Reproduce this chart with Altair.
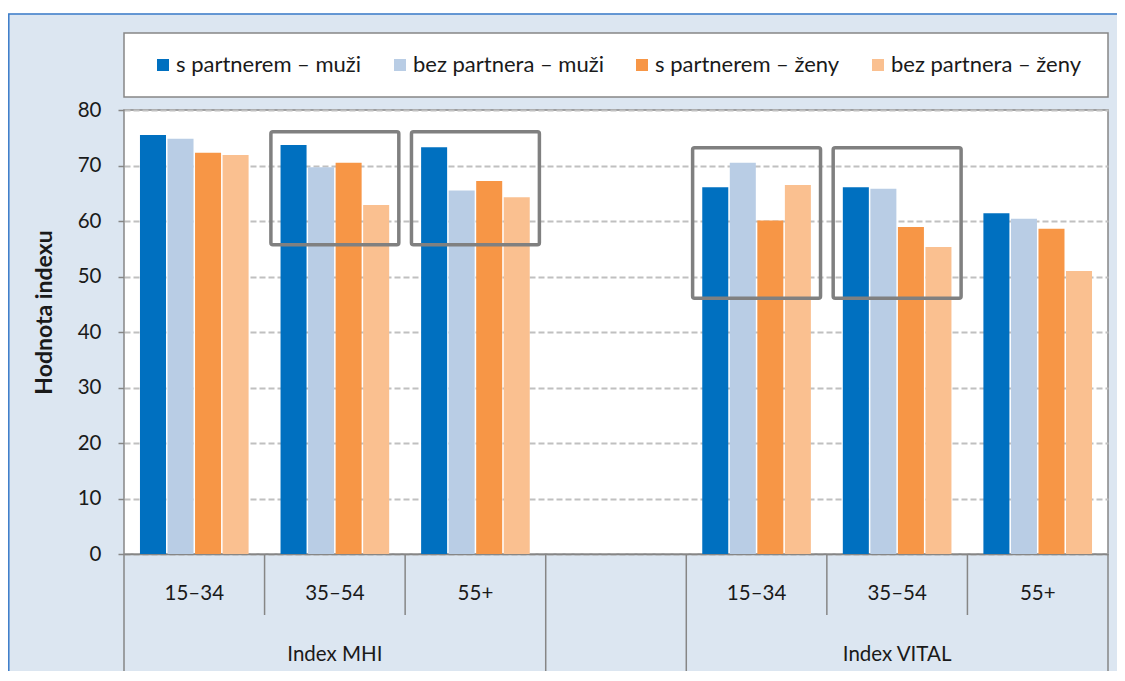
import altair as alt
import pandas as pd

# ---- data ----
slots = ["MHI|15–34", "MHI|35–54", "MHI|55+", "gap|", "VITAL|15–34", "VITAL|35–54", "VITAL|55+"]
bar_slots = ["MHI|15–34", "MHI|35–54", "MHI|55+", "VITAL|15–34", "VITAL|35–54", "VITAL|55+"]
series = ["s partnerem – muži", "bez partnera – muži", "s partnerem – ženy", "bez partnera – ženy"]
colors = ["#0070c0", "#b9cde5", "#f79646", "#fac090"]

s_partnerem_muzi = [75.5, 73.7, 73.3, 66.1, 66.1, 61.4]
bez_partnera_muzi = [74.8, 69.7, 65.5, 70.5, 65.8, 60.4]
s_partnerem_zeny = [72.3, 70.5, 67.2, 60.1, 58.9, 58.6]
bez_partnera_zeny = [71.9, 62.9, 64.3, 66.5, 55.3, 51.0]

box_slots = ["MHI|35–54", "MHI|55+", "VITAL|15–34", "VITAL|35–54"]
box_low = [55.7, 55.7, 46.1, 46.1]
box_high = [76.1, 76.1, 73.2, 73.2]

group_labels = ["Index MHI", "Index VITAL"]
group_centers = ["MHI|35–54", "VITAL|35–54"]
short_seps = ["MHI|35–54", "MHI|55+", "VITAL|35–54", "VITAL|55+"]
long_seps = ["MHI|15–34", "gap|", "VITAL|15–34"]
last_slot = ["VITAL|55+"]
y_ticks = [0, 10, 20, 30, 40, 50, 60, 70, 80]

W, H = 984, 444
FONT = "Lato"
GRAY = "#868686"
TXT = "#1a1a1a"

rows = []
for s, vals in zip(series, [s_partnerem_muzi, bez_partnera_muzi, s_partnerem_zeny, bez_partnera_zeny]):
    for slot, v in zip(bar_slots, vals):
        rows.append({"slot": slot, "series": s, "value": v})
df = pd.DataFrame(rows)
box_df = pd.DataFrame({"slot": box_slots, "low": box_low, "high": box_high})

x_scale = alt.Scale(domain=slots, paddingInner=0, paddingOuter=0)
y_scale = alt.Scale(domain=[0, 80], nice=False)
one = alt.Data(values=[{}])

x_axis = alt.Axis(title=None, labelExpr="split(datum.label, '|')[1]", labelAngle=0,
                  ticks=False, domain=True, domainColor=GRAY, domainWidth=1.5,
                  labelFontSize=20.5, labelFont=FONT, labelColor=TXT,
                  labelBaseline="middle", labelPadding=39, grid=False)
y_axis = alt.Axis(values=y_ticks, title="Hodnota indexu", titleFontSize=23,
                  titleFontWeight="bold", titleFont=FONT, titleColor=TXT,
                  titleX=-80, titleY=202, titleAngle=-90, titleAlign="center",
                  titleBaseline="middle",
                  grid=True, gridDash=[6, 3], gridColor="#c0c0c0", gridWidth=1.8,
                  domain=False, ticks=True, tickSize=6, tickColor=GRAY, tickWidth=1.5,
                  labelFontSize=20.5, labelFont=FONT, labelColor=TXT, labelPadding=17)


def xenc(**kw):
    return alt.X("slot:N", scale=x_scale, sort=slots, axis=x_axis, **kw)


strip = alt.Chart(one).mark_rect(fill="white").encode(
    x=alt.value(-116), x2=alt.value(W + 17), y=alt.value(-102), y2=alt.value(-96.5))
frame = alt.Chart(one).mark_rect(fillOpacity=0, stroke="#3a7bc8", strokeWidth=1.5).encode(
    x=alt.value(-115.2), x2=alt.value(W + 40), y=alt.value(-96), y2=alt.value(H + 200))
legend_box = alt.Chart(one).mark_rect(fill="white", stroke=GRAY, strokeWidth=1.5).encode(
    x=alt.value(0), x2=alt.value(W), y=alt.value(-77), y2=alt.value(-13))

bars = alt.Chart(df).mark_bar().encode(
    x=xenc(),
    xOffset=alt.XOffset("series:N", sort=series,
                        scale=alt.Scale(domain=series, paddingInner=0.055, paddingOuter=0.58)),
    y=alt.Y("value:Q", scale=y_scale, axis=y_axis),
    color=alt.Color("series:N", scale=alt.Scale(domain=series, range=colors),
                    legend=alt.Legend(title=None, orient="none", legendX=28, legendY=-56,
                                      direction="horizontal", symbolType="square",
                                      symbolSize=144, symbolStrokeWidth=0,
                                      labelFontSize=22, labelFont=FONT, labelColor=TXT,
                                      labelLimit=400,
                                      labelOffset=2, columnPadding=27, padding=0)),
)

boxes = alt.Chart(box_df).mark_bar(filled=False, stroke="#808080", strokeWidth=3.5,
                                   width=alt.RelativeBandSize(0.91), cornerRadius=2).encode(
    x=xenc(),
    y=alt.Y("low:Q", scale=y_scale, axis=y_axis),
    y2="high:Q",
)

short_rules = alt.Chart(pd.DataFrame({"slot": short_seps})).mark_rule(color=GRAY, strokeWidth=1.5).encode(
    x=xenc(bandPosition=0), y=alt.value(H), y2=alt.value(H + 61))
long_rules = alt.Chart(pd.DataFrame({"slot": long_seps})).mark_rule(color=GRAY, strokeWidth=1.5).encode(
    x=xenc(bandPosition=0), y=alt.value(H), y2=alt.value(H + 120))
end_rule = alt.Chart(pd.DataFrame({"slot": last_slot})).mark_rule(color=GRAY, strokeWidth=1.5).encode(
    x=xenc(bandPosition=1), y=alt.value(H), y2=alt.value(H + 120))

group_text = alt.Chart(pd.DataFrame({"slot": group_centers, "label": group_labels})).mark_text(
    fontSize=20.5, font=FONT, color=TXT, baseline="middle").encode(
    x=xenc(), y=alt.value(H + 101), text="label:N")

chart = alt.layer(strip, frame, legend_box, bars, boxes, short_rules, long_rules, end_rule, group_text).properties(
    width=W, height=H,
    autosize=alt.AutoSizeParams(type="none"),
    padding={"left": 116, "top": 102, "right": 9, "bottom": 117},
).configure(background="#dce6f1", font=FONT).configure_view(
    fill="white", stroke=GRAY, strokeWidth=1.5)

chart.save("out.html", embed_options={"renderer": "svg", "actions": False})
